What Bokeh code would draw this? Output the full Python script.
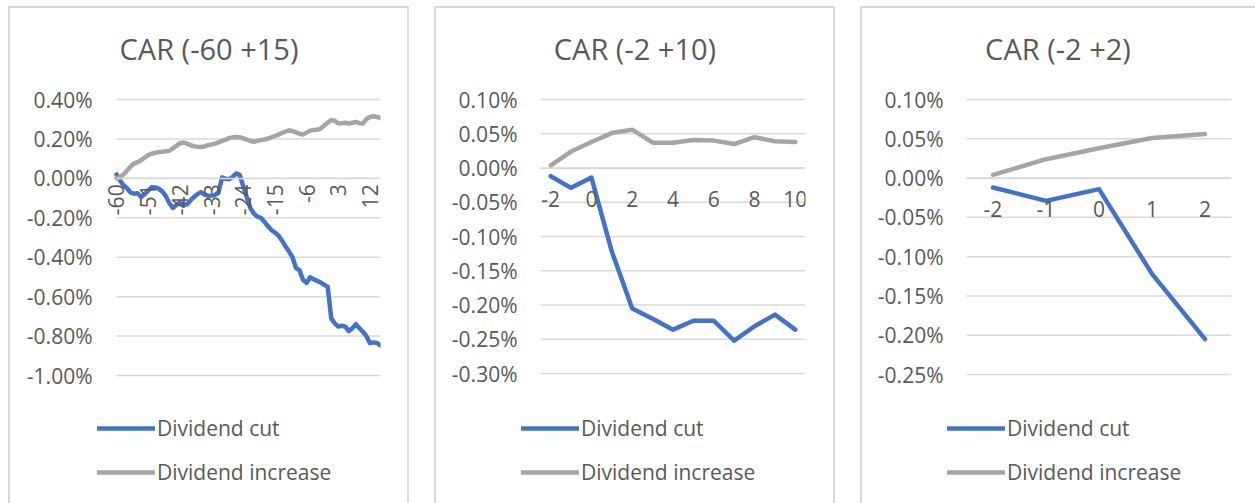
import math
from bokeh.plotting import figure
from bokeh.layouts import row
from bokeh.models import FixedTicker, PrintfTickFormatter, Legend, LegendItem, Range1d, Label
from bokeh.embed import file_html
from bokeh.resources import INLINE

# ---------------- data ----------------
titles = ["CAR (-60 +15)", "CAR (-2 +10)", "CAR (-2 +2)"]
series_names = ["Dividend cut", "Dividend increase"]

days_long = list(range(-60, 16))
cut_long = [0.020, -0.010, -0.035, -0.050, -0.072, -0.078, -0.076, -0.094, -0.080, -0.062,
            -0.045, -0.046, -0.052, -0.066, -0.090, -0.125, -0.150, -0.135, -0.122, -0.133,
            -0.132, -0.112, -0.095, -0.080, -0.070, -0.082, -0.088, -0.087, -0.084, -0.070,
            0.005, -0.002, -0.004, 0.008, 0.025, 0.018, -0.040, -0.095, -0.150, -0.178,
            -0.194, -0.200, -0.220, -0.242, -0.262, -0.275, -0.290, -0.315, -0.345, -0.370,
            -0.400, -0.455, -0.466, -0.515, -0.530, -0.502, -0.512, -0.520, -0.528, -0.540,
            -0.550, -0.710, -0.735, -0.752, -0.748, -0.752, -0.775, -0.760, -0.740, -0.760,
            -0.778, -0.800, -0.836, -0.832, -0.835, -0.848]
inc_long = [0.000, 0.008, 0.020, 0.040, 0.060, 0.075, 0.082, 0.092, 0.105, 0.118,
            0.125, 0.130, 0.133, 0.135, 0.137, 0.140, 0.152, 0.165, 0.178, 0.182,
            0.176, 0.168, 0.163, 0.160, 0.159, 0.162, 0.168, 0.172, 0.176, 0.182,
            0.190, 0.196, 0.204, 0.208, 0.210, 0.209, 0.203, 0.196, 0.190, 0.185,
            0.190, 0.194, 0.197, 0.202, 0.208, 0.215, 0.222, 0.230, 0.237, 0.243,
            0.240, 0.234, 0.226, 0.222, 0.232, 0.242, 0.245, 0.246, 0.252, 0.268,
            0.282, 0.296, 0.292, 0.279, 0.280, 0.282, 0.278, 0.282, 0.286, 0.280,
            0.278, 0.300, 0.312, 0.315, 0.311, 0.306]

days_mid = list(range(-2, 11))
cut_mid = [-0.012, -0.029, -0.014, -0.122, -0.205, -0.220, -0.236, -0.223, -0.223,
           -0.252, -0.231, -0.214, -0.236]
inc_mid = [0.004, 0.024, 0.038, 0.051, 0.056, 0.037, 0.037, 0.041, 0.040, 0.035,
           0.045, 0.039, 0.038]

days_short = [-2, -1, 0, 1, 2]
cut_short = [-0.012, -0.029, -0.014, -0.122, -0.205]
inc_short = [0.004, 0.024, 0.038, 0.051, 0.056]

yticks_long = [0.4, 0.2, 0.0, -0.2, -0.4, -0.6, -0.8, -1.0]
yticks_mid = [0.10, 0.05, 0.0, -0.05, -0.10, -0.15, -0.20, -0.25, -0.30]
yticks_short = [0.10, 0.05, 0.0, -0.05, -0.10, -0.15, -0.20, -0.25]
xticks_long = [-60, -51, -42, -33, -24, -15, -6, 3, 12]
xticks_mid = [-2, 0, 2, 4, 6, 8, 10]
xticks_short = [-2, -1, 0, 1, 2]

# ---------------- style ----------------
FONT = "Open Sans"
BLUE = "#4472C4"
GREY = "#A5A5A5"
TEXT = "#595959"
GRID = "#D9D9D9"
H = 497           # figure height = frame height (frame fills the panel vertically)
TOP = 93          # figure top -> first gridline (pixels)
TITLE_Y = 42      # figure top -> title centre (pixels)
EXT = 21          # frame extends this far left of the plotting area (room for legend)


def panel(title, days, cut, inc, yticks, xticks, xr, pw, left, right, span_px,
          rot, xstand, ystand, shadow):
    x0, x1 = xr
    xpp = (x1 - x0) / pw                      # data units per pixel (x)
    xstart = x0 - EXT * xpp
    ytop, ybot = yticks[0], yticks[-1]
    ypp = (ytop - ybot) / span_px             # data units per pixel (y)
    yend = ytop + TOP * ypp
    ystart = yend - H * ypp
    fw = pw + EXT
    width = left + fw + right
    p = figure(frame_width=fw, frame_height=H, x_range=Range1d(xstart, x1),
               y_range=Range1d(ystart, yend), title=None,
               output_backend="svg", toolbar_location=None,
               min_border_left=left, min_border_right=right, min_border_top=0,
               min_border_bottom=0, outline_line_color=None,
               background_fill_color=None, border_fill_color=None)
    p.styles = {"box-shadow": shadow}

    # horizontal gridlines limited to the plotting area
    p.segment(x0=[x0] * len(yticks), y0=yticks, x1=[x1] * len(yticks), y1=yticks,
              line_color=GRID, line_width=1.5)
    p.grid.visible = False

    r1 = p.line(days, cut, line_color=BLUE, line_width=4.5, line_join="round", line_cap="round")
    r2 = p.line(days, inc, line_color=GREY, line_width=4.5, line_join="round", line_cap="round")

    # y axis
    yax = p.yaxis[0]
    yax.ticker = FixedTicker(ticks=yticks)
    yax.formatter = PrintfTickFormatter(format="%.2f%%")
    yax.axis_line_color = None
    yax.major_tick_line_color = None
    yax.minor_tick_line_color = None
    yax.major_tick_out = 0
    yax.major_tick_in = 0
    yax.major_label_standoff = ystand
    yax.major_label_text_font = FONT
    yax.major_label_text_font_size = "21px"
    yax.major_label_text_color = TEXT

    # x axis crossing at zero
    xax = p.xaxis[0]
    xax.fixed_location = 0
    xax.bounds = (x0, x1)
    xax.ticker = FixedTicker(ticks=xticks)
    xax.formatter = PrintfTickFormatter(format="%d")
    xax.axis_line_color = GRID
    xax.axis_line_width = 1.5
    xax.major_tick_line_color = None
    xax.minor_tick_line_color = None
    xax.major_tick_out = 0
    xax.major_tick_in = 0
    xax.major_label_standoff = xstand
    xax.major_label_orientation = rot
    xax.major_label_text_font = FONT
    xax.major_label_text_font_size = "21px"
    xax.major_label_text_color = TEXT

    # chart title, centred on the panel
    p.add_layout(Label(x=xstart + (width / 2 - left) * xpp, y=yend - TITLE_Y * ypp,
                       text=title, text_align="center", text_baseline="middle",
                       text_font=FONT, text_font_size="29px", text_color=TEXT))

    legend = Legend(items=[LegendItem(label=series_names[0], renderers=[r1]),
                           LegendItem(label=series_names[1], renderers=[r2])],
                    location=(2, 17), orientation="vertical", padding=0, margin=0,
                    spacing=16, glyph_width=58, glyph_height=20, label_height=20,
                    label_standoff=2, border_line_color=None, background_fill_alpha=0,
                    label_text_font=FONT, label_text_font_size="21px",
                    label_text_color=TEXT, label_text_baseline="middle")
    p.add_layout(legend)
    return p


BOX = "inset 2px 2px 0 0 #D9D9D9, inset -2px 0 0 0 #D9D9D9"
BOX_LAST = "inset 2px 2px 0 0 #D9D9D9"

p1 = panel(titles[0], days_long, cut_long, inc_long, yticks_long, xticks_long,
           (-60, 15), 264, 87, 29, 276, math.pi / 2, 6, 3, BOX)
p2 = panel(titles[1], days_mid, cut_mid, inc_mid, yticks_mid, xticks_mid,
           (-2.5, 10.5), 265, 85, 30, 274, "horizontal", 23, 2, BOX)
p3 = panel(titles[2], days_short, cut_short, inc_short, yticks_short, xticks_short,
           (-2.5, 2.5), 265, 85, 24, 275, "horizontal", 23, 2, BOX_LAST)

layout = row(p1, p2, p3, spacing=25, margin=(6, 0, 0, 8))
open("out.html", "w").write(file_html(layout, INLINE))
